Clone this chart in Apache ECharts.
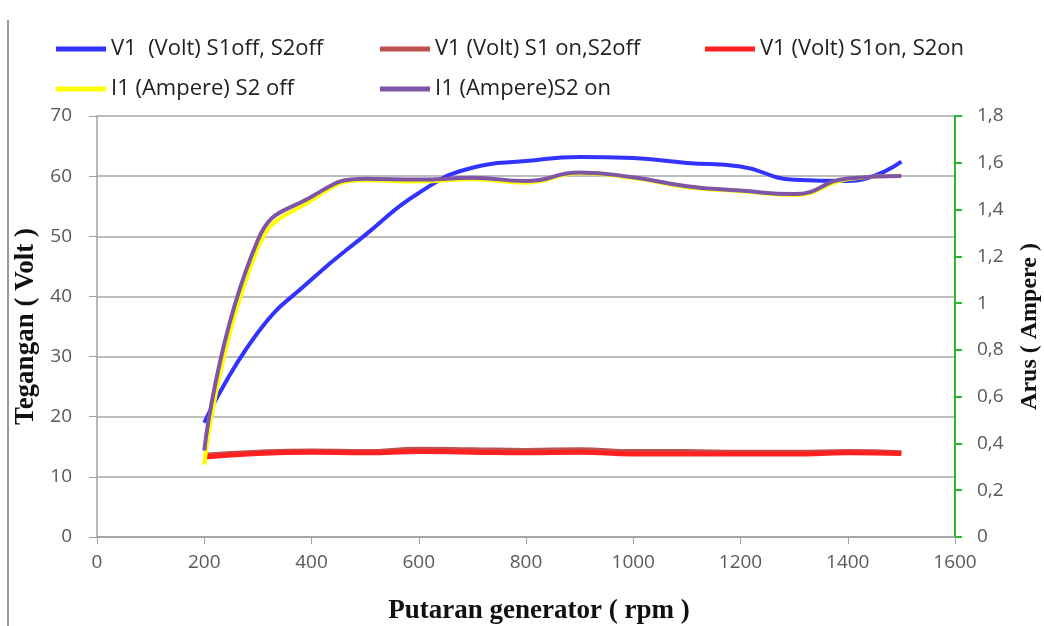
<!DOCTYPE html>
<html>
<head>
<meta charset="utf-8">
<script src="https://cdn.jsdelivr.net/npm/echarts@6/dist/echarts.min.js"></script>
<style>html,body{margin:0;padding:0;background:#fff}#c{width:1044px;height:626px}</style>
</head>
<body>
<div id="c"></div>
<script>
var rpm = [200, 300, 400, 500, 600, 700, 800, 900, 1000, 1100, 1200, 1300, 1400, 1500];
var v1OffOff = [19.0, 34.0, 42.8, 50.2, 57.2, 61.4, 62.5, 63.2, 63.0, 62.2, 61.6, 59.4, 59.2, 62.4];
var v1OnOff = [13.6, 14.1, 14.3, 14.2, 14.6, 14.5, 14.4, 14.5, 14.2, 14.2, 14.1, 14.1, 14.2, 14.0];
var v1OnOn = [13.3, 13.9, 14.1, 14.0, 14.2, 14.1, 14.0, 14.1, 13.8, 13.8, 13.8, 13.8, 14.0, 13.9];
var i1S2Off = [0.31, 1.235, 1.44, 1.525, 1.52, 1.53, 1.515, 1.555, 1.535, 1.495, 1.478, 1.462, 1.53, 1.545];
var i1S2On = [0.37, 1.27, 1.455, 1.532, 1.528, 1.536, 1.522, 1.558, 1.538, 1.50, 1.481, 1.466, 1.533, 1.543];
var names = ['V1  (Volt) S1off, S2off', 'V1 (Volt) S1 on,S2off', 'V1 (Volt) S1on, S2on', 'I1 (Ampere) S2 off', 'I1 (Ampere)S2 on'];
var colors = ['#3333FF', '#C0504D', '#FF2020', '#FFFF00', '#7F55A5'];

function pairs(ys) { return rpm.map(function (x, i) { return [x, ys[i]]; }); }
var font = '"Open Sans", Lato, sans-serif';
var serif = '"Liberation Serif", "DejaVu Serif", serif';

function leg(name, left, top, color) {
  return {
    data: [{ name: name, icon: 'rect', itemStyle: { color: color } }],
    left: left, top: top, itemWidth: 50, itemHeight: 5, padding: 0,
    textStyle: { fontFamily: font, fontSize: 22, color: '#222' },
    selectedMode: false
  };
}
function ser(name, ys, color, axis, z, w) {
  return {
    name: name, type: 'line', yAxisIndex: axis, data: pairs(ys),
    smooth: 0.5, showSymbol: false, symbol: 'none', z: z,
    lineStyle: { color: color, width: w }, itemStyle: { color: color }
  };
}
var chart = echarts.init(document.getElementById('c'));
chart.setOption({
  animation: false,
  graphic: [{ type: 'line', shape: { x1: 8, y1: 20, x2: 8, y2: 626 }, style: { stroke: '#999', lineWidth: 2 } }],
  legend: [
    leg(names[0], 56, 38, colors[0]),
    leg(names[1], 380, 38, colors[1]),
    leg(names[2], 705, 38, colors[2]),
    leg(names[3], 56, 78, colors[3]),
    leg(names[4], 380, 78, colors[4])
  ],
  grid: { left: 97, right: 89, top: 116, bottom: 89, containLabel: false, outerBoundsMode: 'none' },
  xAxis: {
    type: 'value', min: 0, max: 1600, interval: 200,
    name: 'Putaran generator ( rpm )', nameLocation: 'middle', nameGap: 61,
    nameTextStyle: { fontFamily: serif, fontWeight: 'bold', fontSize: 27, color: '#111', padding: [0, 0, 0, 26] },
    axisLine: { show: true, lineStyle: { color: '#A0A0A0', width: 1.5 } },
    axisTick: { show: true, length: 7, lineStyle: { color: '#A0A0A0' } },
    axisLabel: { fontFamily: font, fontSize: 19, color: '#595959', margin: 16,
      formatter: function (v) { return String(v); } },
    splitLine: { show: false }
  },
  yAxis: [{
    type: 'value', min: 0, max: 70, interval: 10, position: 'left',
    name: 'Tegangan ( Volt )', nameLocation: 'middle', nameGap: 54,
    nameTextStyle: { fontFamily: serif, fontWeight: 'bold', fontSize: 27, color: '#111' },
    axisLine: { show: true, lineStyle: { color: '#A0A0A0', width: 1.5 } },
    axisTick: { show: true, length: 8, lineStyle: { color: '#A0A0A0' } },
    axisLabel: { fontFamily: font, fontSize: 19, color: '#595959', margin: 25,
      formatter: function (v) { return String(v); } },
    splitLine: { show: true, lineStyle: { color: '#A8A8A8', width: 1.5 } }
  }, {
    type: 'value', min: 0, max: 1.8, interval: 0.2, position: 'right',
    name: 'Arus ( Ampere )', nameLocation: 'middle', nameGap: 63,
    nameTextStyle: { fontFamily: serif, fontWeight: 'bold', fontSize: 24, color: '#111' },
    axisLine: { show: true, lineStyle: { color: '#2DB52D', width: 2 } },
    axisTick: { show: true, length: 7, lineStyle: { color: '#2DB52D', width: 2 } },
    axisLabel: { fontFamily: font, fontSize: 19, color: '#595959', margin: 22,
      formatter: function (v) { return String(+v.toFixed(1)).replace('.', ','); } },
    splitLine: { show: false }
  }],
  series: [
    ser(names[0], v1OffOff, colors[0], 0, 2, 4),
    ser(names[1], v1OnOff, colors[1], 0, 3, 5),
    ser(names[2], v1OnOn, colors[2], 0, 4, 5),
    ser(names[3], i1S2Off, colors[3], 1, 5, 4),
    ser(names[4], i1S2On, colors[4], 1, 6, 4)
  ]
});
</script>
</body>
</html>
